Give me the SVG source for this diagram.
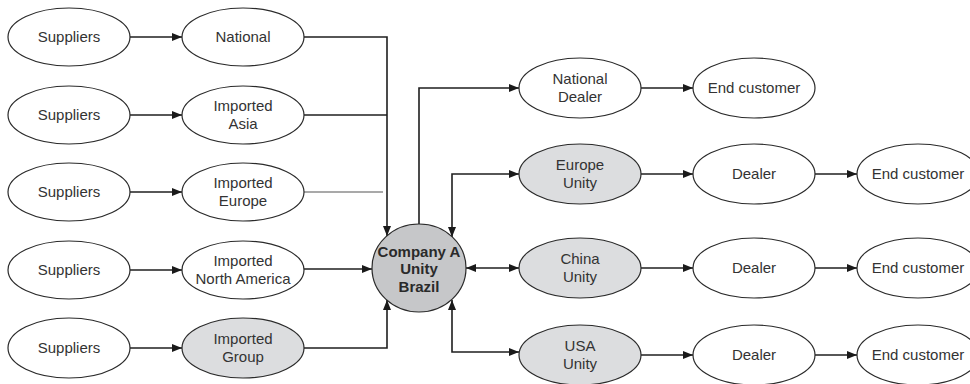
<svg xmlns="http://www.w3.org/2000/svg" width="970" height="384" viewBox="0 0 970 384">
<defs>
<marker id="ah" markerUnits="userSpaceOnUse" markerWidth="11" markerHeight="9" refX="10" refY="4" orient="auto-start-reverse" viewBox="0 0 11 9">
<path d="M0,0 L10,4 L0,8 z" fill="#1a1a1a"/>
</marker>
<style>
.n ellipse{fill:#fff;stroke:#2a2a2a;stroke-width:1.2}
.n.g ellipse{fill:#dcdddf}
.n.c ellipse{fill:#c6c7c9}
.n text{font-family:"Liberation Sans",Arial,sans-serif;font-size:15px;fill:#333;text-anchor:middle}
.n.c text{font-weight:bold;fill:#2a2a2a}
.e{fill:none;stroke:#1f1f1f;stroke-width:1.6}
.e.a{marker-end:url(#ah)}
.e.b{marker-start:url(#ah);marker-end:url(#ah)}
.e.t{stroke:#555;stroke-width:1.1}
</style>
</defs>
<rect width="970" height="384" fill="#fff"/>
<g id="connectors">
<path class="e a" d="M130,37 H182"/>
<path class="e a" d="M130,115 H182"/>
<path class="e a" d="M130,192 H182"/>
<path class="e a" d="M130,270 H182"/>
<path class="e a" d="M130,348 H182"/>
<path class="e a" d="M304,37 H387 V236"/>
<path class="e" d="M304,115 H387"/>
<path class="e t" d="M304,192 H383"/>
<path class="e a" d="M304,269 H372"/>
<path class="e a" d="M304,348 H387 V300"/>
<path class="e a" d="M419,224 V88 H519"/>
<path class="e b" d="M452,237 V174 H519"/>
<path class="e b" d="M466,268 H519"/>
<path class="e b" d="M452,300 V352 H519"/>
<path class="e a" d="M641,88 H693"/>
<path class="e a" d="M641,174 H693"/>
<path class="e a" d="M641,268 H693"/>
<path class="e a" d="M641,355 H693"/>
<path class="e a" d="M815,174 H857"/>
<path class="e a" d="M815,268 H857"/>
<path class="e a" d="M815,355 H857"/>
</g>
<g id="sup1" class="n"><ellipse cx="69" cy="37" rx="61" ry="29"/><text x="69" y="42">Suppliers</text></g>
<g id="sup2" class="n"><ellipse cx="69" cy="115" rx="61" ry="29"/><text x="69" y="120">Suppliers</text></g>
<g id="sup3" class="n"><ellipse cx="69" cy="192" rx="61" ry="29"/><text x="69" y="197">Suppliers</text></g>
<g id="sup4" class="n"><ellipse cx="69" cy="270" rx="61" ry="29"/><text x="69" y="275">Suppliers</text></g>
<g id="sup5" class="n"><ellipse cx="69" cy="348" rx="61" ry="30"/><text x="69" y="353">Suppliers</text></g>
<g id="national" class="n"><ellipse cx="243" cy="37" rx="61" ry="29"/><text x="243" y="42">National</text></g>
<g id="asia" class="n"><ellipse cx="243" cy="115" rx="61" ry="29"/><text x="243" y="111">Imported</text><text x="243" y="129">Asia</text></g>
<g id="europe" class="n"><ellipse cx="243" cy="192" rx="61" ry="29"/><text x="243" y="188">Imported</text><text x="243" y="206">Europe</text></g>
<g id="northamerica" class="n"><ellipse cx="243" cy="270" rx="61" ry="29"/><text x="243" y="266">Imported</text><text x="243" y="284">North America</text></g>
<g id="group" class="n g"><ellipse cx="243" cy="348" rx="61" ry="30"/><text x="243" y="344">Imported</text><text x="243" y="362">Group</text></g>
<g id="companyA" class="n c"><ellipse cx="419" cy="268" rx="47" ry="44"/><text x="419" y="257">Company A</text><text x="419" y="274">Unity</text><text x="419" y="292">Brazil</text></g>
<g id="nationalDealer" class="n"><ellipse cx="580" cy="88" rx="61" ry="30"/><text x="580" y="84">National</text><text x="580" y="102">Dealer</text></g>
<g id="endNational" class="n"><ellipse cx="754" cy="88" rx="61" ry="30"/><text x="754" y="93">End customer</text></g>
<g id="europeUnity" class="n g"><ellipse cx="580" cy="174" rx="61" ry="30"/><text x="580" y="170">Europe</text><text x="580" y="188">Unity</text></g>
<g id="dealerEurope" class="n"><ellipse cx="754" cy="174" rx="61" ry="30"/><text x="754" y="179">Dealer</text></g>
<g id="endEurope" class="n"><ellipse cx="918" cy="174" rx="61" ry="30"/><text x="918" y="179">End customer</text></g>
<g id="chinaUnity" class="n g"><ellipse cx="580" cy="268" rx="61" ry="30"/><text x="580" y="264">China</text><text x="580" y="282">Unity</text></g>
<g id="dealerChina" class="n"><ellipse cx="754" cy="268" rx="61" ry="30"/><text x="754" y="273">Dealer</text></g>
<g id="endChina" class="n"><ellipse cx="918" cy="268" rx="61" ry="30"/><text x="918" y="273">End customer</text></g>
<g id="usaUnity" class="n g"><ellipse cx="580" cy="355" rx="61" ry="30"/><text x="580" y="351">USA</text><text x="580" y="369">Unity</text></g>
<g id="dealerUSA" class="n"><ellipse cx="754" cy="355" rx="61" ry="30"/><text x="754" y="360">Dealer</text></g>
<g id="endUSA" class="n"><ellipse cx="918" cy="355" rx="61" ry="30"/><text x="918" y="360">End customer</text></g>
</svg>
